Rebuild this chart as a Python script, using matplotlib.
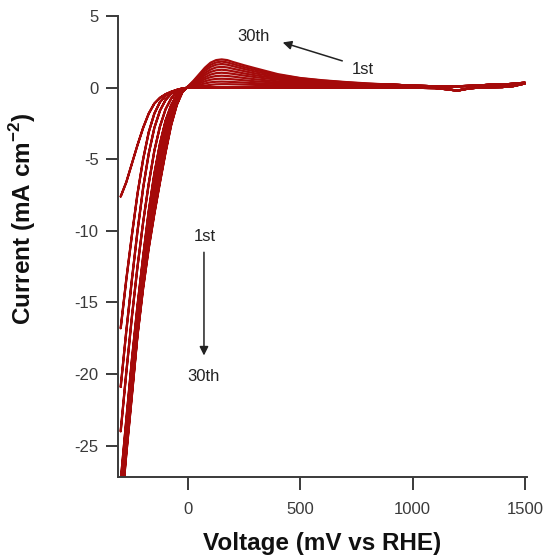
import matplotlib
matplotlib.use("Agg")
import matplotlib.pyplot as plt

plt.rcParams['font.family'] = ['Liberation Sans', 'DejaVu Sans']
plt.rcParams['axes.unicode_minus'] = False

# Cathodic region voltages (mV) and currents (mA cm^-2) for selected cycles
v_cath = [-300, -275, -250, -225, -200, -175, -150, -125, -100, -75, -50, -25, 0]
cycles = [1, 2, 3, 4, 5, 8, 12, 17, 23, 30]
i_cath = {
    1:  [-7.6, -6.6, -5.3, -4.0, -2.8, -1.8, -1.1, -0.7, -0.45, -0.28, -0.15, -0.05, 0.0],
    2:  [-16.8, -13.4, -10.3, -7.4, -5.0, -3.1, -1.8, -1.0, -0.55, -0.3, -0.15, -0.05, 0.0],
    3:  [-20.9, -17.0, -13.4, -10.0, -7.0, -4.6, -2.8, -1.6, -0.85, -0.42, -0.18, -0.05, 0.0],
    4:  [-24.0, -19.9, -16.0, -12.5, -9.4, -6.7, -4.4, -2.7, -1.5, -0.75, -0.3, -0.08, 0.02],
    5:  [-27.5, -23.2, -19.0, -15.2, -11.8, -8.6, -6.0, -3.9, -2.3, -1.2, -0.5, -0.12, 0.03],
    8:  [-28.5, -24.2, -20.0, -16.1, -12.6, -9.4, -6.6, -4.4, -2.7, -1.4, -0.6, -0.15, 0.05],
    12: [-29.0, -24.8, -20.6, -16.7, -13.1, -9.9, -7.1, -4.8, -3.0, -1.6, -0.7, -0.2, 0.06],
    17: [-29.5, -25.2, -21.0, -17.1, -13.5, -10.4, -7.6, -5.3, -3.4, -1.9, -0.85, -0.25, 0.08],
    23: [-29.8, -25.4, -21.3, -17.2, -13.8, -10.8, -8.1, -5.8, -3.9, -2.2, -1.0, -0.28, 0.09],
    30: [-30.0, -25.6, -21.5, -17.3, -14.0, -11.2, -8.8, -6.6, -4.5, -2.6, -1.2, -0.3, 0.1],
}

# Forward anodic sweep (per cycle)
v_anod = [25, 50, 75, 100, 125, 150, 175, 200, 250, 300, 400, 500, 600, 700, 800]
i_anod = {
    1:  [0.05, 0.1, 0.15, 0.2, 0.24, 0.25, 0.25, 0.24, 0.22, 0.2, 0.17, 0.15, 0.14, 0.13, 0.12],
    2:  [0.1, 0.2, 0.3, 0.38, 0.42, 0.43, 0.42, 0.4, 0.36, 0.32, 0.26, 0.22, 0.19, 0.17, 0.15],
    3:  [0.15, 0.3, 0.45, 0.56, 0.62, 0.63, 0.62, 0.59, 0.52, 0.45, 0.36, 0.29, 0.24, 0.2, 0.17],
    4:  [0.2, 0.4, 0.6, 0.74, 0.82, 0.84, 0.82, 0.78, 0.68, 0.59, 0.45, 0.36, 0.29, 0.23, 0.19],
    5:  [0.25, 0.5, 0.73, 0.92, 1.02, 1.05, 1.02, 0.97, 0.85, 0.74, 0.56, 0.44, 0.34, 0.27, 0.21],
    8:  [0.3, 0.6, 0.88, 1.1, 1.22, 1.26, 1.22, 1.15, 1.0, 0.87, 0.65, 0.5, 0.39, 0.3, 0.23],
    12: [0.35, 0.7, 1.02, 1.27, 1.42, 1.46, 1.42, 1.33, 1.16, 1.0, 0.74, 0.56, 0.43, 0.33, 0.25],
    17: [0.4, 0.8, 1.17, 1.45, 1.61, 1.66, 1.61, 1.51, 1.31, 1.13, 0.82, 0.62, 0.47, 0.36, 0.27],
    23: [0.45, 0.88, 1.3, 1.6, 1.77, 1.83, 1.77, 1.66, 1.44, 1.25, 0.9, 0.66, 0.5, 0.38, 0.28],
    30: [0.5, 0.95, 1.4, 1.75, 1.93, 1.98, 1.93, 1.8, 1.57, 1.36, 0.95, 0.68, 0.52, 0.4, 0.3],
}

# Common high-potential forward tail
v_tail = [900, 1000, 1100, 1200, 1300, 1350, 1400, 1450, 1500]
i_tail = [0.22, 0.15, 0.1, 0.1, 0.16, 0.22, 0.22, 0.28, 0.35]

# Common reverse sweep (1500 -> 0 mV)
v_rev = [1500, 1450, 1400, 1300, 1250, 1200, 1150, 1100, 1000, 800, 600, 400, 200, 100, 25]
i_rev = [0.3, 0.12, 0.05, 0.02, -0.05, -0.2, -0.1, -0.02, 0.0, 0.0, 0.0, 0.0, 0.0, 0.0, 0.0]

color = '#a50a0a'
text_col = '#222222'
tick_col = '#3a3a3a'

fig = plt.figure(figsize=(5.48, 5.58), dpi=100)
ax = fig.add_axes([0.2153, 0.145, 0.7464, 0.826])

for c in cycles:
    xs = v_cath + v_anod + v_tail + v_rev + v_cath[::-1]
    ys = i_cath[c] + i_anod[c] + i_tail + i_rev + i_cath[c][::-1]
    ax.plot(xs, ys, color=color, lw=1.6, solid_joinstyle='round', solid_capstyle='round')

ax.set_xlim(-312, 1510)
ax.set_ylim(-27.2, 5)
ax.set_xticks([0, 500, 1000, 1500])
ax.set_yticks([5, 0, -5, -10, -15, -20, -25])

for s in ['top', 'right']:
    ax.spines[s].set_visible(False)
for s in ['left', 'bottom']:
    ax.spines[s].set_linewidth(1.4)
    ax.spines[s].set_color(tick_col)
ax.tick_params(direction='out', length=9, width=1.4, color=tick_col,
               labelsize=12, labelcolor=tick_col)
ax.tick_params(axis='x', pad=9)
ax.tick_params(axis='y', pad=5)

ax.set_xlabel('Voltage (mV vs RHE)', fontsize=17.5, fontweight='bold', labelpad=11, color='#111111')
ax.set_ylabel('Current (mA cm$^{\\mathregular{-2}}$)', fontsize=17.5, fontweight='bold',
              color='#111111')
ax.yaxis.set_label_coords(-0.196, 0.56)

ax.annotate('', xy=(410, 3.22), xytext=(699, 1.82),
            arrowprops=dict(arrowstyle='-|>', color=text_col, lw=1.1, mutation_scale=13))
ax.text(290, 3.57, '30th', fontsize=12, ha='center', va='center', color=text_col)
ax.text(779, 1.26, '1st', fontsize=12, ha='center', va='center', color=text_col)

ax.annotate('', xy=(71, -18.9), xytext=(71, -11.3),
            arrowprops=dict(arrowstyle='-|>', color=text_col, lw=1.1, mutation_scale=13))
ax.text(76, -10.4, '1st', fontsize=12, ha='center', va='center', color=text_col)
ax.text(71, -20.2, '30th', fontsize=12, ha='center', va='center', color=text_col)

fig.savefig('out.png', dpi=100, facecolor='white')
